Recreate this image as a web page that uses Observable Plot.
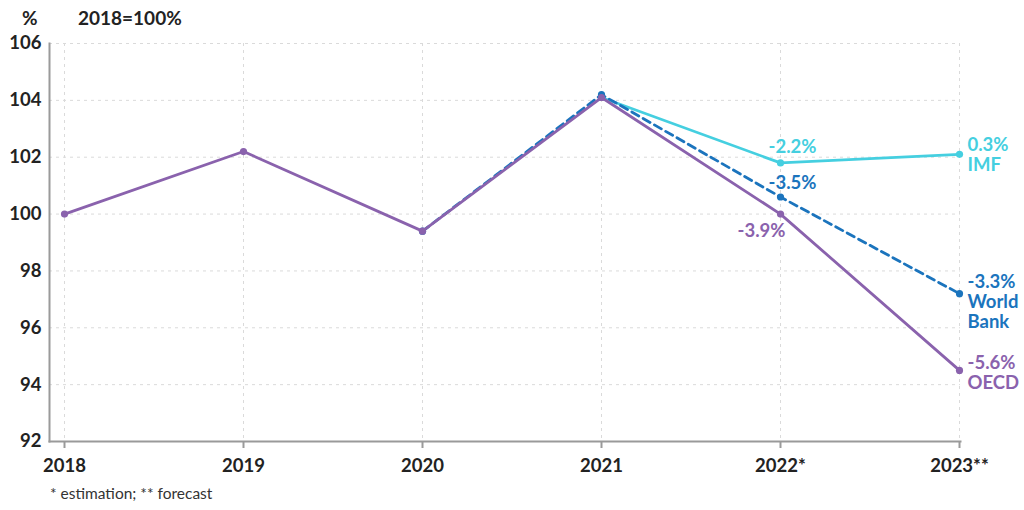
<!DOCTYPE html>
<html>
<head>
<meta charset="utf-8">
<script src="https://cdn.jsdelivr.net/npm/d3@7"></script>
<script src="https://cdn.jsdelivr.net/npm/@observablehq/plot@0.6"></script>
<style>
  html, body { margin: 0; padding: 0; background: #fff; overflow: hidden; }
  body { font-family: Lato, "Open Sans", sans-serif; color: #222; width: 1024px; }
  #head { height: 30px; position: relative; font-weight: bold; font-size: 19px; }
  #head span { position: absolute; top: 6px; }
  #cap { font-size: 15.5px; color: #333; padding-left: 50px; margin-top: 4px; }
</style>
</head>
<body>
<div id="head"><span style="left:22px">%</span><span style="left:78px">2018=100%</span></div>
<div id="chart"></div>
<div id="cap">* estimation; ** forecast</div>
<script>
const years = ["2018", "2019", "2020", "2021", "2022*", "2023**"];
const oecd = [100.0, 102.2, 99.4, 104.1, 100.0, 94.5];
const imf = [null, null, null, 104.1, 101.8, 102.1];
const worldBank = [null, null, 99.4, 104.2, 100.6, 97.2];
const yTicks = [92, 94, 96, 98, 100, 102, 104, 106];

const imfLabels2022 = "-2.2%";
const wbLabels2022 = "-3.5%";
const oecdLabels2022 = "-3.9%";
const endLabels = { imf: "0.3%\nIMF", wb: "-3.3%\nWorld\nBank", oecd: "-5.6%\nOECD" };

const colors = { imf: "#45cfe0", wb: "#1b74bd", oecd: "#8a62ad" };

function rows(vals) {
  return years.map((y, i) => ({ year: y, value: vals[i] })).filter(d => d.value != null);
}
const dImf = rows(imf), dWb = rows(worldBank), dOecd = rows(oecd);
const last = arr => [arr[arr.length - 1]];
const at2022 = arr => arr.filter(d => d.year === years[4]);

const FS = 18.5;
const chart = Plot.plot({
  width: 1024,
  height: 450,
  marginLeft: 49,
  marginRight: 64,
  marginTop: 13,
  marginBottom: 39,
  style: { fontFamily: "Lato, 'Open Sans', sans-serif", fontSize: FS + "px", fontWeight: "bold", color: "#222", background: "#fff" },
  x: { type: "point", domain: years, range: [62, 960], padding: 0 },
  y: { domain: [92, 106] },
  marks: [
    Plot.gridY(yTicks, { stroke: "#dadada", strokeOpacity: 1, strokeDasharray: "3,4" }),
    Plot.gridX(years, { stroke: "#dadada", strokeOpacity: 1, strokeDasharray: "3,4" }),
    Plot.axisY(yTicks, { tickSize: 0, tickPadding: 8, label: null, fontWeight: "bold", fontSize: FS, fill: "#222" }),
    Plot.axisX(years, { tickSize: 7, tickPadding: 10, label: null, stroke: "#9a9a9a", strokeWidth: 2, fontSize: FS, fontWeight: "bold", fill: "#222" }),
    Plot.frame({ anchor: "left", stroke: "#9a9a9a", strokeWidth: 2 }),
    Plot.frame({ anchor: "bottom", stroke: "#9a9a9a", strokeWidth: 2 }),
    Plot.line(dImf, { x: "year", y: "value", stroke: colors.imf, strokeWidth: 2.8 }),
    Plot.dot(dImf, { x: "year", y: "value", fill: colors.imf, r: 3.6 }),
    Plot.line(dWb, { x: "year", y: "value", stroke: colors.wb, strokeWidth: 2.8, strokeDasharray: "8,5" }),
    Plot.dot(dWb, { x: "year", y: "value", fill: colors.wb, r: 3.6 }),
    Plot.line(dOecd, { x: "year", y: "value", stroke: colors.oecd, strokeWidth: 2.8 }),
    Plot.dot(dOecd, { x: "year", y: "value", fill: colors.oecd, r: 3.6 }),
    Plot.text(at2022(dImf), { x: "year", y: "value", text: () => imfLabels2022, fill: colors.imf, dx: 12, dy: -16, fontSize: FS, fontWeight: "bold" }),
    Plot.text(at2022(dWb), { x: "year", y: "value", text: () => wbLabels2022, fill: colors.wb, dx: 12, dy: -14, fontSize: FS, fontWeight: "bold" }),
    Plot.text(at2022(dOecd), { x: "year", y: "value", text: () => oecdLabels2022, fill: colors.oecd, dx: -19, dy: 17, fontSize: FS, fontWeight: "bold" }),
    Plot.text(last(dImf), { x: "year", y: "value", text: () => endLabels.imf, fill: colors.imf, textAnchor: "start", lineAnchor: "top", dx: 8, dy: -18, lineHeight: 1.08, fontSize: FS, fontWeight: "bold" }),
    Plot.text(last(dWb), { x: "year", y: "value", text: () => endLabels.wb, fill: colors.wb, textAnchor: "start", lineAnchor: "top", dx: 8, dy: -20, lineHeight: 1.08, fontSize: FS, fontWeight: "bold" }),
    Plot.text(last(dOecd), { x: "year", y: "value", text: () => endLabels.oecd, fill: colors.oecd, textAnchor: "start", lineAnchor: "top", dx: 8, dy: -16, lineHeight: 1.08, fontSize: FS, fontWeight: "bold" })
  ]
});
document.getElementById("chart").appendChild(chart);
</script>
</body>
</html>
